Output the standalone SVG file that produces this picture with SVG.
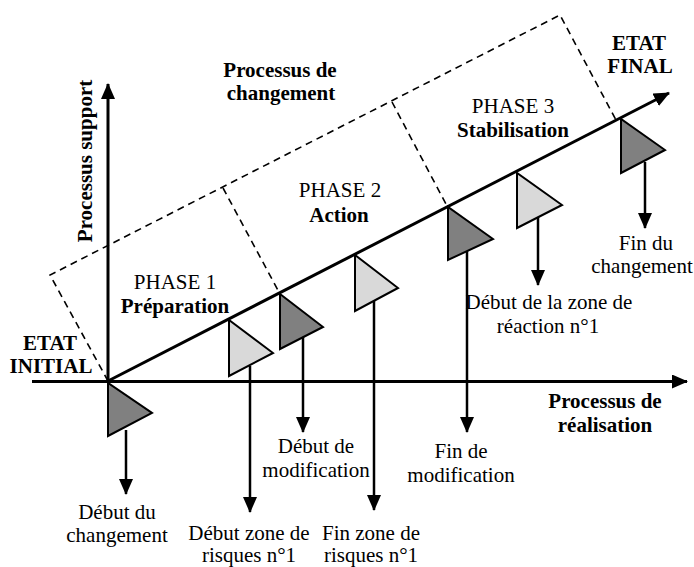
<svg xmlns="http://www.w3.org/2000/svg" width="694" height="567" viewBox="0 0 694 567">
<defs>
<style>
.t{font-family:'Liberation Serif','Times New Roman',serif;font-size:21px;fill:#000;text-anchor:middle}
.b{font-weight:bold}
.ax{stroke:#000;stroke-width:3;fill:none}
.ar{stroke:#000;stroke-width:2.5;fill:none}
.ds{stroke:#000;stroke-width:1.6;fill:none;stroke-dasharray:7 5}
.dk{fill:#808080;stroke:#000;stroke-width:2}
.lt{fill:#d9d9d9;stroke:#000;stroke-width:2}
</style>
<marker id="ah" viewBox="0 0 16 14" refX="15" refY="7" markerWidth="16" markerHeight="14" markerUnits="userSpaceOnUse" orient="auto">
<path d="M0,0 L16,7 L0,14 Z" fill="#000"/>
</marker>
</defs>
<rect width="694" height="567" fill="#fff"/>
<g id="connectors">
<path class="ds" d="M108,381 L50,275 L560,15 L616,120"/>
<path class="ds" d="M223,188 L280,294"/>
<path class="ds" d="M392,102 L447,206"/>
<line class="ax" x1="32" y1="381.5" x2="687" y2="381.5" marker-end="url(#ah)"/>
<line class="ax" x1="108" y1="381" x2="108" y2="84" marker-end="url(#ah)"/>
<line class="ax" x1="108" y1="381" x2="669" y2="93" marker-end="url(#ah)"/>
<line class="ar" x1="126" y1="430" x2="126" y2="494" marker-end="url(#ah)"/>
<line class="ar" x1="250" y1="366" x2="250" y2="512" marker-end="url(#ah)"/>
<line class="ar" x1="303" y1="337" x2="303" y2="432" marker-end="url(#ah)"/>
<line class="ar" x1="374" y1="299" x2="374" y2="510" marker-end="url(#ah)"/>
<line class="ar" x1="467" y1="250" x2="467" y2="432" marker-end="url(#ah)"/>
<line class="ar" x1="538" y1="217" x2="538" y2="285" marker-end="url(#ah)"/>
<line class="ar" x1="645" y1="162" x2="645" y2="228" marker-end="url(#ah)"/>
</g>
<g id="t1"><polygon class="dk" points="108,383 108,436 152,413"/></g>
<g id="t2"><polygon class="lt" points="229,320 229,376 273,353"/></g>
<g id="t3"><polygon class="dk" points="280,294 280,349 323,327"/></g>
<g id="t4"><polygon class="lt" points="355,255 355,311 398,288"/></g>
<g id="t5"><polygon class="dk" points="448,207 448,260 493,239"/></g>
<g id="t6"><polygon class="lt" points="517,173 517,228 562,205"/></g>
<g id="t7"><polygon class="dk" points="621,119 621,173 665,150"/></g>
<g id="labels">
<text class="t b" x="280" y="77">Processus de</text>
<text class="t b" x="281" y="100">changement</text>
<text class="t b" transform="translate(92,161) rotate(-90)">Processus support</text>
<text class="t" x="175" y="289">PHASE 1</text>
<text class="t b" x="175" y="313">Préparation</text>
<text class="t" x="340" y="197">PHASE 2</text>
<text class="t b" x="339" y="222">Action</text>
<text class="t" x="513" y="113">PHASE 3</text>
<text class="t b" x="513" y="137">Stabilisation</text>
<text class="t b" x="639" y="50">ETAT</text>
<text class="t b" x="640" y="73">FINAL</text>
<text class="t b" x="50" y="350">ETAT</text>
<text class="t b" x="51" y="373">INITIAL</text>
<text class="t b" x="605" y="408">Processus de</text>
<text class="t b" x="605" y="432">réalisation</text>
<text class="t" x="117" y="519">Début du</text>
<text class="t" x="117" y="542">changement</text>
<text class="t" x="249" y="540">Début zone de</text>
<text class="t" x="249" y="562">risques n°1</text>
<text class="t" x="371" y="540">Fin zone de</text>
<text class="t" x="371" y="562">risques n°1</text>
<text class="t" x="316" y="453">Début de</text>
<text class="t" x="316" y="477">modification</text>
<text class="t" x="461" y="458">Fin de</text>
<text class="t" x="461" y="482">modification</text>
<text class="t" x="549" y="309">Début de la zone de</text>
<text class="t" x="548" y="333">réaction n°1</text>
<text class="t" x="646" y="250">Fin du</text>
<text class="t" x="642" y="273">changement</text>
</g>
</svg>
